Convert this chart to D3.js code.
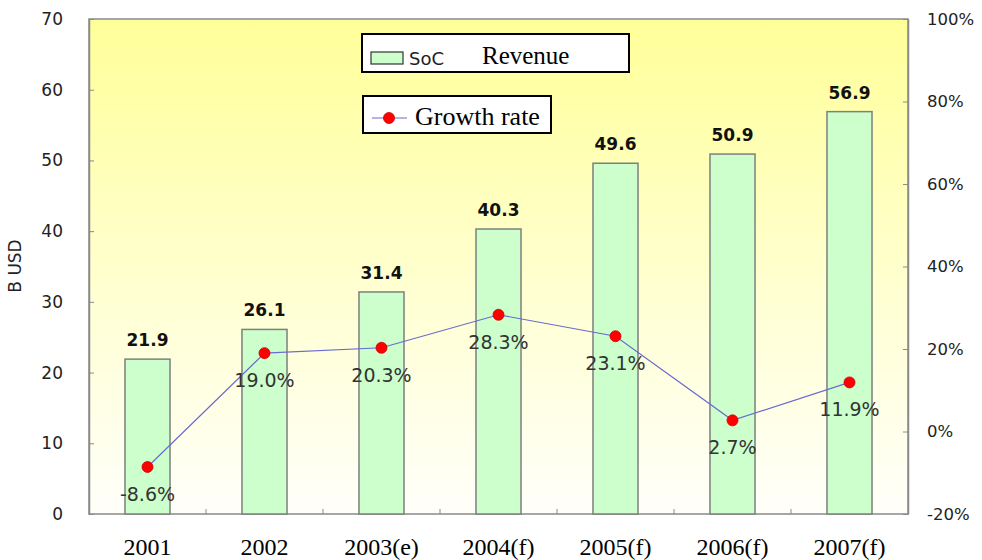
<!DOCTYPE html>
<html>
<head>
<meta charset="utf-8">
<script src="https://cdn.jsdelivr.net/npm/d3@7/dist/d3.min.js"></script>
<style>
  html, body { margin: 0; padding: 0; background: #ffffff; }
  svg { display: block; }
</style>
</head>
<body>
<svg id="chart" width="982" height="560"></svg>
<script>
// SoC revenue (billion USD) and year-on-year growth rate
const categories = ["2001", "2002", "2003(e)", "2004(f)", "2005(f)", "2006(f)", "2007(f)"];
const revenue = [21.9, 26.1, 31.4, 40.3, 49.6, 50.9, 56.9];
const growth = [-8.6, 19.0, 20.3, 28.3, 23.1, 2.7, 11.9];
const leftTicks = [0, 10, 20, 30, 40, 50, 60, 70];
const rightTicks = [-20, 0, 20, 40, 60, 80, 100];

const svg = d3.select("#chart");
const m = { left: 89, right: 908, top: 19, bottom: 514 };
const SANS = "'DejaVu Sans', Verdana, sans-serif";
const SERIF = "'Liberation Serif', 'Times New Roman', serif";
const AXIS = "#8a8a8a";

const x = d3.scaleBand().domain(categories).range([m.left, m.right]).paddingInner(0.615).paddingOuter(0.3075);
const xb = d3.scaleBand().domain(categories).range([m.left, m.right]);
const y = d3.scaleLinear().domain([0, 70]).range([m.bottom, m.top]);
const y2 = d3.scaleLinear().domain([-20, 100]).range([m.bottom, m.top]);

// plot background
const defs = svg.append("defs");
const grad = defs.append("linearGradient").attr("id", "bg").attr("x1", 0).attr("y1", 0).attr("x2", 0).attr("y2", 1);
grad.append("stop").attr("offset", "0%").attr("stop-color", "#ffff99");
grad.append("stop").attr("offset", "55%").attr("stop-color", "#ffffd2");
grad.append("stop").attr("offset", "100%").attr("stop-color", "#fffffa");

svg.append("rect")
  .attr("x", m.left).attr("y", m.top)
  .attr("width", m.right - m.left).attr("height", m.bottom - m.top)
  .attr("fill", "url(#bg)").attr("stroke", AXIS).attr("stroke-width", 1.5);

// bars
svg.append("g").selectAll("rect").data(categories).join("rect")
  .attr("x", d => x(d))
  .attr("y", (d, i) => y(revenue[i]))
  .attr("width", x.bandwidth())
  .attr("height", (d, i) => y(0) - y(revenue[i]))
  .attr("fill", "#ccffcc")
  .attr("stroke", "#7f7f7f")
  .attr("stroke-width", 1.5);

// bar value labels
svg.append("g").selectAll("text").data(categories).join("text")
  .attr("x", d => x(d) + x.bandwidth() / 2)
  .attr("y", (d, i) => y(revenue[i]) - 13)
  .attr("text-anchor", "middle")
  .attr("font-family", SANS).attr("font-weight", "bold").attr("font-size", 17)
  .attr("fill", "#111")
  .text((d, i) => revenue[i].toFixed(1));

// left axis
const gl = svg.append("g").attr("transform", `translate(${m.left},0)`)
  .call(d3.axisLeft(y).tickValues(leftTicks).tickSizeInner(-5).tickSizeOuter(0).tickPadding(26));
gl.select(".domain").attr("stroke", AXIS).attr("stroke-width", 1.5);
gl.selectAll(".tick line").attr("stroke", AXIS);
gl.selectAll(".tick text").attr("font-family", SANS).attr("font-size", 17).attr("fill", "#222");

// right axis
const gr = svg.append("g").attr("transform", `translate(${m.right},0)`)
  .call(d3.axisRight(y2).tickValues(rightTicks).tickSizeInner(-5).tickSizeOuter(0).tickPadding(19).tickFormat(d => d + "%"));
gr.select(".domain").attr("stroke", AXIS).attr("stroke-width", 1.5);
gr.selectAll(".tick line").attr("stroke", AXIS);
gr.selectAll(".tick text").attr("font-family", SANS).attr("font-size", 16.5).attr("fill", "#222");

// bottom axis: ticks between categories, labels centered
const gb = svg.append("g").attr("transform", `translate(0,${m.bottom})`);
gb.selectAll("line").data(categories.slice(1)).join("line")
  .attr("x1", d => xb(d)).attr("x2", d => xb(d))
  .attr("y1", 0).attr("y2", -5)
  .attr("stroke", AXIS);
gb.selectAll("text").data(categories).join("text")
  .attr("x", d => xb(d) + xb.bandwidth() / 2)
  .attr("y", 41)
  .attr("text-anchor", "middle")
  .attr("font-family", SERIF).attr("font-size", 24).attr("fill", "#000")
  .text(d => d);

// y axis title
svg.append("text")
  .attr("transform", `translate(21,266) rotate(-90)`)
  .attr("text-anchor", "middle")
  .attr("font-family", SANS).attr("font-size", 17).attr("fill", "#222")
  .text("B USD");

// growth rate line
const cx = (d) => xb(d) + xb.bandwidth() / 2;
const line = d3.line().x((d, i) => cx(categories[i])).y(d => y2(d));
svg.append("path").datum(growth)
  .attr("d", line)
  .attr("fill", "none")
  .attr("stroke", "#6a6ad0")
  .attr("stroke-width", 1.2);

svg.append("g").selectAll("circle").data(growth).join("circle")
  .attr("cx", (d, i) => cx(categories[i]))
  .attr("cy", d => y2(d))
  .attr("r", 5.5)
  .attr("fill", "#ff0000")
  .attr("stroke", "#cc0000")
  .attr("stroke-width", 0.8);

svg.append("g").selectAll("text").data(growth).join("text")
  .attr("x", (d, i) => cx(categories[i]))
  .attr("y", d => y2(d) + 34)
  .attr("text-anchor", "middle")
  .attr("font-family", SANS).attr("font-size", 19).attr("fill", "#333")
  .text(d => d.toFixed(1) + "%");

// legend: revenue
const l1 = svg.append("g");
l1.append("rect").attr("x", 362).attr("y", 34).attr("width", 267).attr("height", 38)
  .attr("fill", "#fff").attr("stroke", "#000").attr("stroke-width", 2);
l1.append("rect").attr("x", 371).attr("y", 52).attr("width", 32).attr("height", 12)
  .attr("fill", "#ccffcc").attr("stroke", "#333").attr("stroke-width", 1.2);
l1.append("text").attr("x", 409).attr("y", 65)
  .attr("font-family", SANS).attr("font-size", 18).attr("fill", "#222").text("SoC");
l1.append("text").attr("x", 482).attr("y", 64)
  .attr("font-family", SERIF).attr("font-size", 25).attr("fill", "#000").text("Revenue");

// legend: growth rate
const l2 = svg.append("g");
l2.append("rect").attr("x", 363).attr("y", 96).attr("width", 188).attr("height", 37)
  .attr("fill", "#fff").attr("stroke", "#000").attr("stroke-width", 2);
l2.append("line").attr("x1", 372).attr("x2", 407).attr("y1", 118).attr("y2", 118)
  .attr("stroke", "#6a6ad0").attr("stroke-width", 1.2);
l2.append("circle").attr("cx", 389).attr("cy", 118).attr("r", 5.5)
  .attr("fill", "#ff0000").attr("stroke", "#cc0000").attr("stroke-width", 0.8);
l2.append("text").attr("x", 415).attr("y", 125)
  .attr("font-family", SERIF).attr("font-size", 26).attr("fill", "#000").text("Growth rate");
</script>
</body>
</html>
